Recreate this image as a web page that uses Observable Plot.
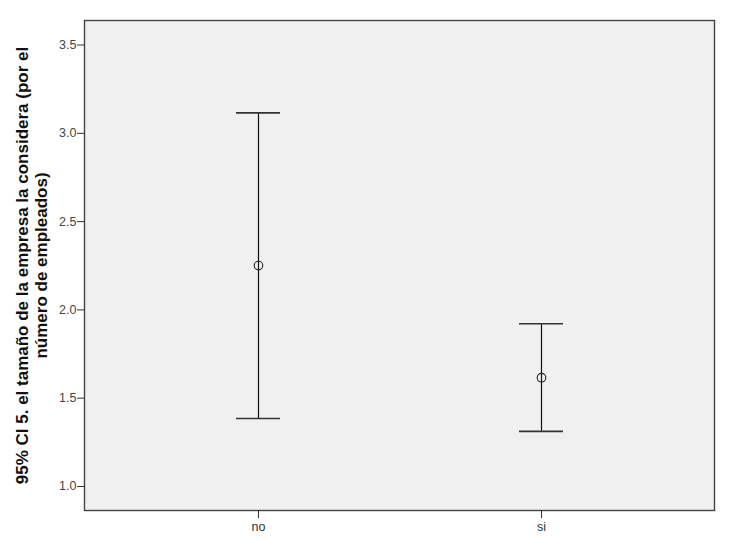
<!DOCTYPE html>
<html>
<head>
<meta charset="utf-8">
<script src="https://cdn.jsdelivr.net/npm/d3@7"></script>
<script src="https://cdn.jsdelivr.net/npm/@observablehq/plot@0.6"></script>
<style>
  html, body { margin: 0; padding: 0; background: #fff; }
</style>
</head>
<body>
<div id="chart"></div>
<script>
const groups = ["no", "si"];
const means = [2.251, 1.616];
const lower = [1.385, 1.312];
const upper = [3.116, 1.922];
const yTicks = [1.0, 1.5, 2.0, 2.5, 3.0, 3.5];
const yTitleLines = ["95% CI 5. el tamaño de la empresa la considera (por el", "número de empleados)"];

const rows = groups.map((g, i) => ({g, m: means[i], lo: lower[i], hi: upper[i]}));

const titleMark = (line, dx) => Plot.text([line], {
  frameAnchor: "left", rotate: -90, dx,
  text: d => d, textAnchor: "middle", lineAnchor: "middle",
  fontSize: 17, fontWeight: "bold", fill: "#111"
});

const chart = Plot.plot({
  width: 731,
  height: 547,
  marginLeft: 84,
  marginRight: 17,
  marginTop: 20,
  marginBottom: 37,
  style: {fontFamily: "'Liberation Sans', Arial, sans-serif", fontSize: "12.5px", color: "#333", background: "#fff"},
  x: {type: "band", domain: groups, paddingInner: 0.845, paddingOuter: 0.532},
  y: {domain: [0.864, 3.639]},
  marks: [
    Plot.frame({fill: "#f0f0f0", stroke: "none"}),
    Plot.ruleX(rows, {x: "g", y1: "lo", y2: "hi", stroke: "#111", strokeWidth: 1.2}),
    Plot.tickY(rows, {x: "g", y: "lo", stroke: "#333", strokeWidth: 1.6}),
    Plot.tickY(rows, {x: "g", y: "hi", stroke: "#333", strokeWidth: 1.6}),
    Plot.dot(rows, {x: "g", y: "m", r: 4.3, stroke: "#222", fill: "none", strokeWidth: 1.1}),
    Plot.frame({stroke: "#444", strokeWidth: 1.4}),
    Plot.axisY({ticks: yTicks, tickFormat: d3.format(".1f"), tickSize: 7, tickPadding: 1, label: null, fill: "#444"}),
    Plot.axisX({tickSize: 8, tickPadding: 4, label: null, fill: "#333"}),
    titleMark(yTitleLines[0], -62),
    titleMark(yTitleLines[1], -43)
  ]
});
document.getElementById("chart").appendChild(chart);
</script>
</body>
</html>
